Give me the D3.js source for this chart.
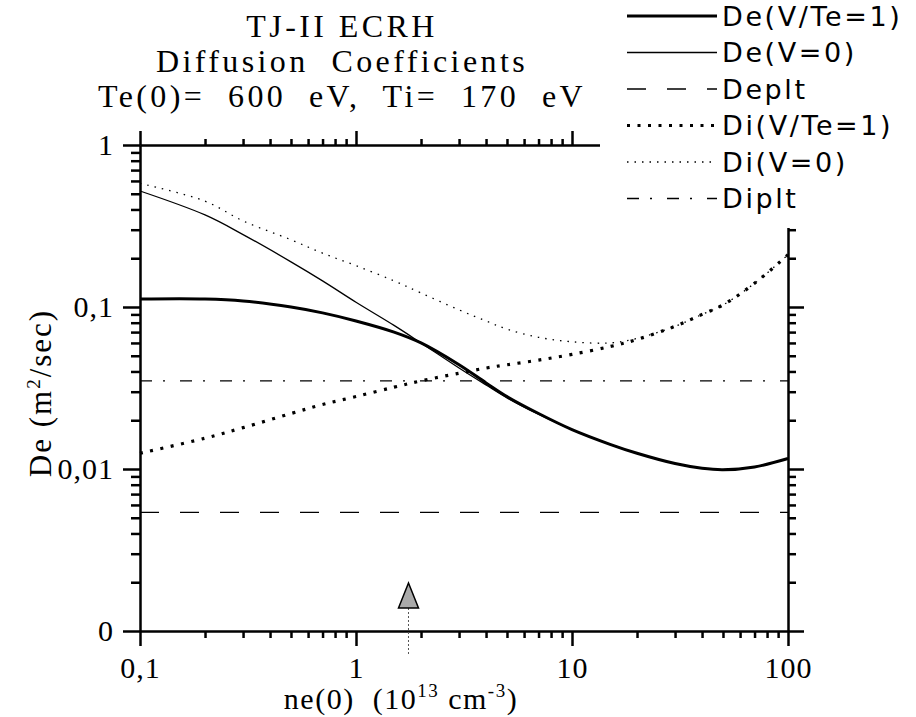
<!DOCTYPE html>
<html>
<head>
<meta charset="utf-8">
<script src="https://cdn.jsdelivr.net/npm/d3@7"></script>
<style>
  body { margin: 0; background: #fff; color: #000; }
  svg { display: block; }
  text { white-space: pre; }
</style>
</head>
<body>
<script>
// electron density ne(0), in 10^13 cm^-3
const neValues = [0.1, 0.2, 0.3, 0.5, 0.7, 1, 1.5, 2, 3, 4, 5, 7, 10, 15, 20, 30, 40, 50, 70, 100];
// diffusion coefficients, m^2/sec
const deVTe1 = [0.112, 0.112, 0.109, 0.100, 0.092, 0.082, 0.070, 0.060, 0.044, 0.034, 0.028, 0.022, 0.0175, 0.0142, 0.0125, 0.0108, 0.0101, 0.0099, 0.0103, 0.0116];
const deV0   = [0.52, 0.37, 0.28, 0.19, 0.145, 0.107, 0.077, 0.060, 0.042, 0.033, 0.0275, 0.0218, 0.0175, 0.0142, 0.0125, 0.0108, 0.0101, 0.0099, 0.0103, 0.0116];
const diVTe1 = [0.0125, 0.0155, 0.018, 0.022, 0.025, 0.028, 0.032, 0.035, 0.039, 0.042, 0.044, 0.047, 0.051, 0.057, 0.063, 0.076, 0.090, 0.103, 0.140, 0.21];
const diV0   = [0.58, 0.45, 0.34, 0.26, 0.215, 0.18, 0.145, 0.122, 0.096, 0.082, 0.073, 0.065, 0.061, 0.060, 0.064, 0.076, 0.090, 0.103, 0.140, 0.21];
const depltValue = 0.0054;
const dipltValue = 0.035;
const markerNe = 1.75;

const seriesNames = ["De(V/Te=1)", "De(V=0)", "Deplt", "Di(V/Te=1)", "Di(V=0)", "Diplt"];
const xTickLabels = { 0.1: "0,1", 1: "1", 10: "10", 100: "100" };
const yTickLabels = { 0.001: "0", 0.01: "0,01", 0.1: "0,1", 1: "1" };
const titleLines = ["TJ-II ECRH", "Diffusion  Coefficients", "Te(0)=  600  eV,  Ti=  170  eV"];

const chart = () => {

  var width = 916, height = 717;
  var serif = "'Liberation Serif', 'Times New Roman', serif";

  var svg = d3.select('body').append('svg')
      .attr('width', width)
      .attr('height', height);

  var x = d3.scaleLog().domain([0.1, 100]).range([140, 788]);
  var y = d3.scaleLog().domain([0.001, 1]).range([631, 145]);

  function logTickValues(lo, hi) {
    var out = [];
    for (var e = Math.floor(Math.log10(lo)); e <= Math.ceil(Math.log10(hi)); e++) {
      for (var k = 1; k < 10; k++) {
        var v = +(k * Math.pow(10, e)).toPrecision(3);
        if (v >= lo * 0.999 && v <= hi * 1.001) out.push(v);
      }
    }
    return out;
  }
  function isMajor(v) {
    var l = Math.log10(v);
    return Math.abs(l - Math.round(l)) < 1e-6;
  }

  var xTicks = logTickValues(0.1, 100);
  var yTicks = logTickValues(0.001, 1);
  var xMinor = xTicks.filter(v => !isMajor(v)), xMajor = xTicks.filter(isMajor);
  var yMinor = yTicks.filter(v => !isMajor(v)), yMajor = yTicks.filter(isMajor);

  var styles = {
    "De(V/Te=1)": { w: 3, dash: null },
    "De(V=0)":    { w: 1.3, dash: null },
    "Deplt":      { w: 1.3, dash: "19,21" },
    "Di(V/Te=1)": { w: 3.2, dash: "3,7.5" },
    "Di(V=0)":    { w: 1.3, dash: "1.5,6" },
    "Diplt":      { w: 1.3, dash: "12,11,2,15" }
  };

  var domainEnds = x.domain();
  var series = [
    { name: "De(V/Te=1)", pts: neValues.map((n, i) => [n, deVTe1[i]]) },
    { name: "De(V=0)",    pts: neValues.map((n, i) => [n, deV0[i]]) },
    { name: "Deplt",      pts: domainEnds.map(n => [n, depltValue]) },
    { name: "Di(V/Te=1)", pts: neValues.map((n, i) => [n, diVTe1[i]]) },
    { name: "Di(V=0)",    pts: neValues.map((n, i) => [n, diV0[i]]) },
    { name: "Diplt",      pts: domainEnds.map(n => [n, dipltValue]) }
  ];

  var line = d3.line()
      .x(d => x(d[0]))
      .y(d => y(d[1]))
      .curve(d3.curveCatmullRom.alpha(0.5));

  svg.append('g')
      .attr('class', 'curves')
    .selectAll('path')
    .data(series)
    .enter().append('path')
      .attr('d', d => line(d.pts))
      .attr('fill', 'none')
      .attr('stroke', '#000')
      .attr('stroke-width', d => styles[d.name].w)
      .attr('stroke-dasharray', d => styles[d.name].dash);

  // one axis call per tick length (minor / decade)
  function drawAxis(axisFn, scale, transform, values, size, labels) {
    var g = svg.append('g')
        .attr('transform', transform)
        .call(axisFn(scale)
          .tickValues(values)
          .tickSize(size)
          .tickSizeOuter(0)
          .tickPadding(6)
          .tickFormat(d => labels ? (labels[d] || "") : ""));
    g.attr('font-family', serif).attr('font-size', 30);
    g.select('.domain').attr('stroke', '#000').attr('stroke-width', 2);
    g.selectAll('.tick line').attr('stroke', '#000').attr('stroke-width', 2.5);
    g.selectAll('.tick text').attr('fill', '#000');
    return g;
  }

  drawAxis(d3.axisBottom, x, 'translate(0,631)', xMinor, 7);
  var bottomMajor = drawAxis(d3.axisBottom, x, 'translate(0,631)', xMajor, 15, xTickLabels);
  bottomMajor.selectAll('.tick text').attr('y', 26).attr('letter-spacing', 1);

  drawAxis(d3.axisTop, x, 'translate(0,145)', xMinor, 6);
  drawAxis(d3.axisTop, x, 'translate(0,145)', xMajor, 14);

  drawAxis(d3.axisLeft, y, 'translate(140,0)', yMinor, 9);
  var leftMajor = drawAxis(d3.axisLeft, y, 'translate(140,0)', yMajor, 17, yTickLabels);
  leftMajor.selectAll('.tick text').attr('x', -26).attr('letter-spacing', 1);

  drawAxis(d3.axisRight, y, 'translate(788,0)', yMinor, 8);
  drawAxis(d3.axisRight, y, 'translate(788,0)', yMajor, 16);

  // the legend sits on a white patch over the top-right corner of the frame
  svg.append('rect')
      .attr('x', 600).attr('y', 0)
      .attr('width', width - 600).attr('height', 228)
      .attr('fill', '#fff');

  var legend = svg.append('g')
      .attr('class', 'legend')
    .selectAll('g')
    .data(seriesNames)
    .enter().append('g')
      .attr('transform', (d, i) => 'translate(0,' + (16 + i * 36.5) + ')');

  legend.append('line')
      .attr('x1', 627).attr('x2', 717)
      .attr('stroke', '#000')
      .attr('stroke-width', d => styles[d].w)
      .attr('stroke-dasharray', d => styles[d].dash);

  legend.append('text')
      .attr('x', 722)
      .attr('dy', '0.36em')
      .attr('font-family', "'DejaVu Sans', sans-serif")
      .attr('font-size', 27)
      .attr('letter-spacing', 2.6)
      .text(d => d);

  // title
  svg.append('g')
    .selectAll('text')
    .data(titleLines)
    .enter().append('text')
      .attr('x', 342)
      .attr('y', (d, i) => 37 + i * 35)
      .attr('text-anchor', 'middle')
      .attr('font-family', serif)
      .attr('font-size', 32)
      .attr('letter-spacing', 3.4)
      .text(d => d);

  // axis titles
  var yTitle = svg.append('text')
      .attr('transform', 'translate(51,393) rotate(-90)')
      .attr('text-anchor', 'middle')
      .attr('font-family', serif)
      .attr('font-size', 31)
      .attr('letter-spacing', 2);
  yTitle.append('tspan').text('De (m');
  yTitle.append('tspan').attr('font-size', 19).attr('dy', -11).text('2');
  yTitle.append('tspan').attr('dy', 11).text('/sec)');

  var xTitle = svg.append('text')
      .attr('x', 401)
      .attr('y', 709)
      .attr('text-anchor', 'middle')
      .attr('font-family', serif)
      .attr('font-size', 30)
      .attr('letter-spacing', 1.5);
  xTitle.append('tspan').text('ne(0)  (10');
  xTitle.append('tspan').attr('font-size', 19).attr('dy', -12).text('13');
  xTitle.append('tspan').attr('dy', 12).text(' cm');
  xTitle.append('tspan').attr('font-size', 19).attr('dy', -12).text('-3');
  xTitle.append('tspan').attr('dy', 12).text(')');

  // marker at the operating density
  var mx = x(markerNe);
  svg.append('line')
      .attr('x1', mx).attr('x2', mx)
      .attr('y1', 608).attr('y2', 655)
      .attr('stroke', '#555')
      .attr('stroke-width', 1)
      .attr('stroke-dasharray', '2,2');
  svg.append('path')
      .attr('d', 'M' + mx + ',583L' + (mx + 10) + ',608L' + (mx - 10) + ',608Z')
      .attr('fill', '#aaa')
      .attr('stroke', '#000')
      .attr('stroke-width', 1.5);
};

chart();
</script>
</body>
</html>
